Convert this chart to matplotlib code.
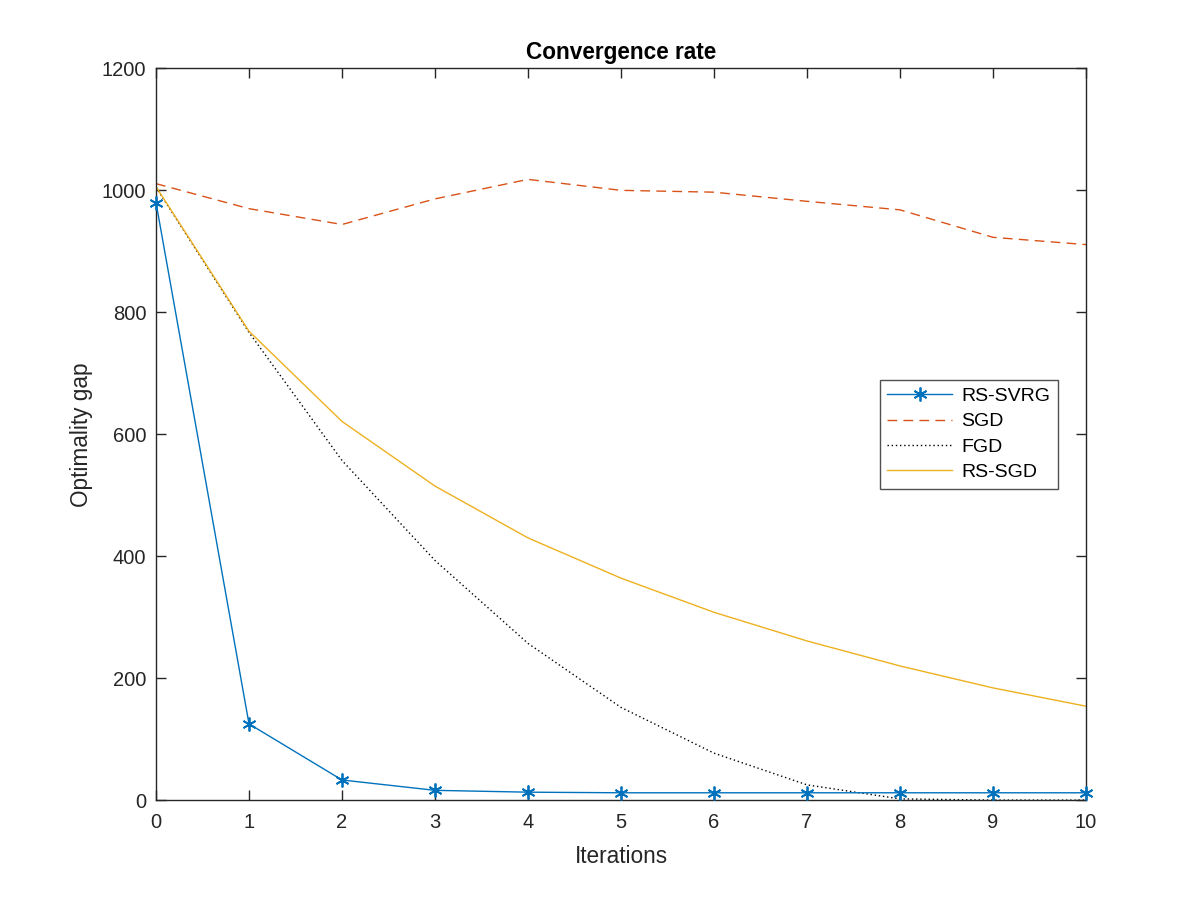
import numpy as np
import matplotlib
matplotlib.use("Agg")
import matplotlib.pyplot as plt

plt.rcParams['font.family'] = ['Liberation Sans', 'DejaVu Sans']

iterations = np.arange(0, 11)
rs_svrg = [980, 125, 33, 16, 13, 12, 12, 12, 12, 12, 12]
sgd = [1011, 970, 944, 986, 1018, 1000, 997, 982, 968, 923, 911]
fgd = [1005, 767, 557, 393, 257, 152, 77, 25, 2, 0, 0]
rs_sgd = [1006, 769, 621, 515, 430, 364, 308, 261, 220, 184, 154]

axcol = '#262626'

fig = plt.figure(figsize=(12, 9), dpi=100)
ax = fig.add_axes([0.13, 0.111, 0.775, 0.813])

ax.plot(iterations, rs_svrg, color='#0072BD', lw=1.0, marker=(6, 2, 0), ms=10, mew=1.3,
        label='RS-SVRG', clip_on=False, zorder=4)
ax.plot(iterations, sgd, color='#D95319', lw=1.0, ls=(0, (7, 4.5)), label='SGD')
ax.plot(iterations, fgd, color='black', lw=1.0, ls=(0, (1, 2)), label='FGD')
ax.plot(iterations, rs_sgd, color='#EDB120', lw=1.0, label='RS-SGD')

ax.set_xlim(0, 10)
ax.set_ylim(0, 1200)
ax.set_xticks(range(0, 11))
ax.set_yticks(range(0, 1201, 200))
ax.tick_params(direction='in', top=True, right=True, length=7, width=1, colors=axcol, labelsize=14.5)
ax.tick_params(axis='x', pad=9)
ax.tick_params(axis='y', pad=7)
for s in ax.spines.values():
    s.set_color(axcol)
    s.set_linewidth(1)

ax.set_xlabel('Iterations', fontsize=16.3, color=axcol, labelpad=10)
ax.set_ylabel('Optimality gap', fontsize=16.3, color=axcol, labelpad=6)
ax.set_title('Convergence rate', fontsize=16.3, fontweight='bold', pad=7)

leg = ax.legend(loc='center right', bbox_to_anchor=(0.97, 0.5), borderaxespad=0, fontsize=14,
                frameon=True, fancybox=False, edgecolor=axcol, handlelength=3.3, handletextpad=0.5,
                borderpad=0.4, labelspacing=0.4)
leg.get_frame().set_linewidth(1)

fig.savefig('out.png', dpi=100)
